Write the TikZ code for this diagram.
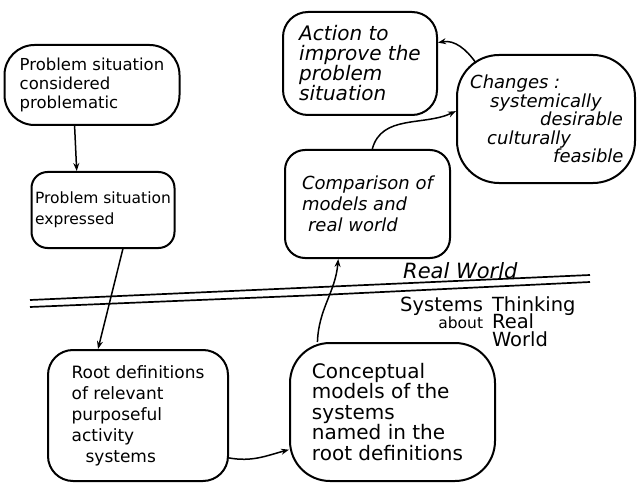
\documentclass[tikz,border=0pt]{standalone}
\usepackage{fontspec}
\setmainfont{DejaVu Sans}
\usetikzlibrary{arrows.meta,shapes.geometric}
\newcommand{\fs}[2]{\fontsize{#1}{#2}\selectfont}
\begin{document}
\begin{tikzpicture}[x=1pt,y=-1pt,
  blob/.style={draw,line width=2pt,align=left,inner sep=0pt},
  txt/.style={align=left,inner sep=0pt},
  arr/.style={line width=1.5pt,-{Stealth[length=8pt,width=6pt]}},
  divider/.style={line width=1.7pt}
  ]
\useasboundingbox[fill=white] (0,0) rectangle (640,484);
% nodes
\node[blob,font=\fs{16.5}{19},rounded corners=30pt,minimum width=175pt,minimum height=80pt] (n1) at (92,85)
  {Problem situation\\considered\\problematic};
\node[blob,font=\fs{15.5}{21},rounded corners=16pt,minimum width=143pt,minimum height=76pt] (n2) at (103,210)
  {Problem situation\\expressed};
\node[blob,font=\fs{17}{21},rounded corners=25pt,minimum width=180pt,minimum height=131pt] (n3) at (138,415.5)
  {Root definitions\\of relevant\\purposeful\\activity\\\hspace*{14pt}systems};
\node[blob,font=\fs{20}{20.5},rounded corners=40pt,minimum width=205pt,minimum height=138pt] (n4) at (392.5,412)
  {Conceptual\\models of the\\systems\\named in the\\root definitions\hspace*{10pt}};
\node[blob,font=\fs{18}{21}\itshape,rounded corners=20pt,minimum width=165pt,minimum height=108pt] (n5) at (367.5,204)
  {Comparison of\\models and\\\hspace*{6pt}real world};
\node[blob,font=\fs{20}{20}\itshape,rounded corners=25pt,minimum width=154pt,minimum height=103pt] (n6) at (360,63.5)
  {Action to\\improve the\\problem\\situation};
\node[draw,line width=2pt,rounded corners=42pt,inner sep=0pt,minimum width=178pt,minimum height=128pt] (n7) at (546,119) {};
\node[txt,font=\fs{18}{18.5}\itshape,anchor=north west] (t7) at (470,75)
  {Changes :\\\hspace*{20pt}systemically\\\hspace*{70pt}desirable\\\hspace*{17pt}culturally\\\hspace*{83pt}feasible};
\coordinate (c7) at (476,63);
% divider
\coordinate (l1a) at (30,300);
\coordinate (l1b) at (590,275);
\coordinate (l2a) at (30,307);
\coordinate (l2m) at (320,295);
\coordinate (l2b) at (590,282);
\draw[divider] (l1a) -- (l1b);
\draw[divider] (l2a) -- (l2m) -- (l2b);
\node[txt,anchor=south west,font=\fs{21}{22}\itshape] (rw) at (403,279) {Real World};
\node[txt,anchor=north west,font=\fs{19.5}{16}] (st) at (400,296)
  {\begin{tabular}{@{}r@{\hspace{9pt}}l@{}}Systems & Thinking\\[-2pt] {\fs{15.5}{15}about} & Real\\[-2pt] & World\end{tabular}};
% connectors
\draw[arr] (n1.-113) -- (n2.124);
\draw[arr] (n2.-63) -- (n3.121);
\draw[arr] (n3.-25) to[out=-10,in=195] (n4.200);
\draw[arr] (n4.137) to[out=88,in=-95] (n5.-118);
\draw[arr] (n5.85) to[out=75,in=205] (n7.175);
\draw[arr] (c7) to[out=125,in=10] (n6.15);
\end{tikzpicture}
\end{document}
